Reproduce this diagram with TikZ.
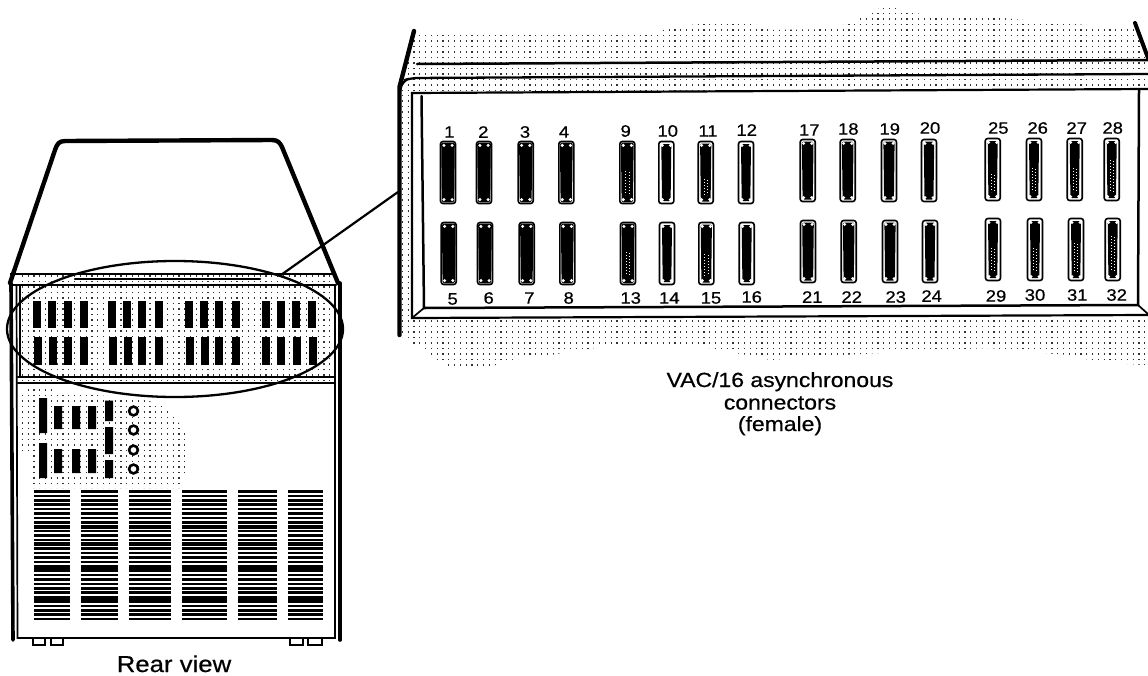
\documentclass[tikz,border=0pt]{standalone}
\usepackage{fontspec}
\setmainfont[FakeStretch=1.12,FakeBold=0.6]{Liberation Sans}
\usetikzlibrary{shapes.geometric}
\tikzset{
  stip/.style={line width=1.2pt,dash pattern=on 1.2pt off 4.6pt,black!80},
  heavy/.style={line width=4.4pt,line cap=round,line join=round},
  medium/.style={line width=2.5pt,line cap=round},
  thin line/.style={line width=1.7pt},
  connbox/.style={draw,line width=1.6pt,rounded corners=2.5pt,minimum width=15pt,minimum height=62pt,inner sep=0pt,fill=white},
  numlabel/.style={font=\fontsize{16.5}{16.5}\selectfont,inner sep=0pt},
  caption/.style={font=\fontsize{20.5}{20.5}\selectfont,inner sep=0pt,anchor=base},
  bigcaption/.style={font=\fontsize{23}{23}\selectfont,inner sep=0pt,anchor=base},
  vent/.style={line width=2.5pt},
  smallport/.style={fill=black}
}
\newcommand\stipple[5]{\begin{scope}\clip #1;
  \pgfmathsetmacro\stipnext{#4+5.5}
  \foreach \yy in {#4,\stipnext,...,#5}{\draw[stip] (#2,\yy)--(#3,\yy);}
\end{scope}}
\newcommand\conn[6]{%
  \node[connbox] (c#1) at (#2,{#3+31.5}) {};
  \fill[black,rounded corners=1.5pt] ({#2-#4},{#3+#6}) -- ({#2+#4},{#3+#6}) -- ({#2+#4-0.7},{#3+63-#6}) -- ({#2-#4+0.7},{#3+63-#6}) -- cycle;
  \fill[white] ({#2-4.1},{#3+4.4}) circle (1.7pt) ({#2+4.1},{#3+4.4}) circle (1.7pt) ({#2-4.1},{#3+58.6}) circle (1.7pt) ({#2+4.1},{#3+58.6}) circle (1.7pt);
  \ifnum#5>0
    \draw[white,line width=.8pt,dash pattern=on 1pt off 2pt] ({#2-1.6},{#3+#5}) -- ({#2-1.6},{#3+54});
    \draw[white,line width=.8pt,dash pattern=on 1pt off 2pt] ({#2+1.6},{#3+#5+1}) -- ({#2+1.6},{#3+54});
  \fi
}
\begin{document}
\begin{tikzpicture}[x=1pt,y=-1pt]
\useasboundingbox (0,0) rectangle (1148,675);
% ---- stipple, big view
\stipple{(414,32)--(517,32)--(658,31)--(690,25)--(720,20)--(743,20)--(770,30)--(830,29)--(850,23)--(860,17)--(870,13)--(880,8)--(897,8)--(917,13)--(933,18)--(1003,18)--(1057,23)--(1133,28)--(1148,58)--(1148,92)--(400,92)--(400,87)--cycle}{396}{1148}{8}{92}
\stipple{(402,90)--(412,90)--(412,318)--(402,318)--cycle}{396}{1148}{95.5}{320}
\stipple{(401,318)--(1148,314)--(1148,365)--(1103,363)--(1067,355)--(990,348)--(937,350)--(843,355)--(770,360)--(747,355)--(717,350)--(697,345)--(603,347)--(567,352)--(540,357)--(510,360)--(490,367)--(452,368)--(440,362)--(420,347)--(410,342)--(401,336)--cycle}{396}{1148}{321}{370}
% ---- stipple, rear view
\stipple{(18,275)--(336,275)--(336,382)--(18,382)--cycle}{16}{338}{276}{382}
\stipple{(28,389)--(52,389)--(52,393)--(90,393)--(110,397)--(145,400)--(163,405)--(168,410)--(173,415)--(180,425)--(186,435)--(186,470)--(181,488)--(33,488)--(33,455)--(22,452)--(22,393)--cycle}{16}{338}{390}{490}
% ---- rear view outline
\draw[heavy] (10,283) -- (55,150) .. controls (57,144) and (59,141) .. (65,141) -- (272,140) .. controls (278,140) and (280,143) .. (282,147) -- (338,283);
\draw[heavy,line width=3.6pt] (11,283) -- (13,640);
\draw[heavy,line width=3.6pt] (340,283) -- (340,640);
\draw[thin line] (16.5,285) -- (17.5,638) -- (335,638) -- (335,285);
\draw[thin line] (10,274) -- (336,274);
\draw[medium] (75,279) -- (260,279);
\draw[medium] (12,285) -- (336,285);
\draw[thin line] (20,286) -- (20,377);
\draw[medium] (18,377) -- (335,377);
\draw[medium] (18,383) -- (335,383);
% feet
\foreach \a/\b in {33/45,51/63,290/303,308/322}{\draw[line width=2pt,fill=white] (\a,639) -- (\a,645) -- (\b,645) -- (\b,639);}
% small ports
\foreach \xa in {37.3,52,67.7,84,112.3,126.7,141.7,159,189.3,204,219,236,266,280.7,296,312}{\fill[smallport] ({\xa-3.9},301) rectangle ({\xa+3.9},328);}
\foreach \xa in {38.3,52.7,68,84,112.7,127.7,142.3,159,190,204.7,219.3,236,266,281,296.7,312.7}{\fill[smallport] ({\xa-3.9},337) rectangle ({\xa+3.9},365);}
% lower section ports
\fill[smallport] (39,398) rectangle (47,433) (39,443) rectangle (47,478);
\foreach \xa/\xb in {54/62,72/80,88/96}{\fill[smallport] (\xa,406) rectangle (\xb,429) (\xa,449) rectangle (\xb,473);}
\fill[smallport] (105,400.5) rectangle (113,421) (105,427) rectangle (113,454) (105,460) rectangle (113,478);
\foreach \yy in {411,430,450,469}{\draw[line width=2.6pt,fill=white] (133.5,\yy) circle (4.4pt);}
% vents
\foreach \a/\b in {34/70,81/118,129/171,182/227,238/277,288/323}{
  \foreach \yy in {491.5,495.9,...,621}{\draw[vent] (\a,\yy)--(\b,\yy);}
  \foreach \yy in {527,544,568,600}{\fill (\a,{\yy-2.2}) rectangle (\b,{\yy+2.2});}
}
% oval and leader
\node[ellipse,draw,line width=2.3pt,minimum width=336pt,minimum height=136pt,inner sep=0pt] (oval) at (175,329) {};
% ---- big view panel
\fill[white] (412,92) -- (1148,89) -- (1148,315) -- (412,318) -- cycle;
\draw[heavy] (414,31) -- (399.5,87) -- (399.5,335);
\draw[heavy,line width=4pt] (1135,23) -- (1148,58);
\draw[medium] (417,64) -- (1148,60);
\draw[line width=2.3pt,rounded corners=7pt] (400,92) -- (402,81) -- (411,78) -- (1148,74);
\draw[line width=2.2pt] (1148,89) -- (412,93) -- (412,318) -- (1148,315);
\draw[medium] (421.5,96) -- (424,308) -- (1138,305) -- (1139,90);
\draw[thin line] (412,318) -- (424,308);
\draw[thin line] (1138,305) -- (1148,314);
\coordinate (panelL) at (398,192);
\draw[line width=2.2pt] (oval.27.5) -- (panelL);
% ---- connectors
\foreach \n/\x/\y/\h/\p/\i in {
1/448/141/6.8/0/1.6,2/484/141/6.8/0/1.6,3/525.7/141/6.6/0/1.6,4/566.3/141/6.4/0/1.6,
9/627.3/141/6.4/30/1.6,10/666.3/141/5/0/3,11/705.7/141/5.6/38/2.5,12/746/141/5/0/3,
5/448.7/222/6.8/0/1.6,6/485/222/6.8/0/1.6,7/526.7/222/6.6/0/1.6,8/567.3/222/6.4/0/1.6,
13/628/222/6.4/30/1.6,14/667/222/5/0/3,15/706.3/222/5.6/32/2.5,16/746.7/222/5/0/3,
17/807.7/139/5.8/0/2.5,18/847.7/139/5.8/0/2.5,19/889/139/5.6/0/2.5,20/929/139/5.2/0/2.5,
25/992.7/138/5/36/3,26/1034/138/5/30/3,27/1074.7/138/5/30/3,28/1111.7/138/5/22/3,
21/808/220/5.8/0/2.5,22/848.7/220/5.8/0/2.5,23/890/220/5.6/0/2.5,24/930/220/5.2/0/2.5,
29/993/218/5/30/3,30/1035/218/5/30/3,31/1076/218/5/25/3,32/1112.7/218/5/18/3}{
  \conn{\n}{\x}{\y}{\h}{\p}{\i}
}
% ---- numbers
\foreach \n/\x/\y in {1/449.3/132,2/483.3/132,3/525/132,4/564/132,9/625.7/131,10/667.7/131,11/708/131,12/746.7/130,
5/452.7/299,6/488.7/298,7/529.3/298,8/568.7/298,13/630.7/298,14/669.3/298,15/711/298,16/751.7/297,
17/809.3/130,18/848.3/129,19/889.7/129,20/930/128,25/998.3/128,26/1037.7/128,27/1076.7/128,28/1112.7/128,
21/812.3/297,22/851.7/297,23/895.7/297,24/931.7/296,29/996/296,30/1035/295,31/1077.3/295,32/1116.7/295}{
  \node[numlabel] (n\n) at (\x,\y) {\n};
}
% ---- captions
\node[caption] (capA) at (780,387) {VAC/16 asynchronous};
\node[caption] (capB) at (780,409.5) {connectors};
\node[caption] (capC) at (780,431) {(female)};
\node[bigcaption] (capD) at (174,672) {Rear view};
\end{tikzpicture}
\end{document}
